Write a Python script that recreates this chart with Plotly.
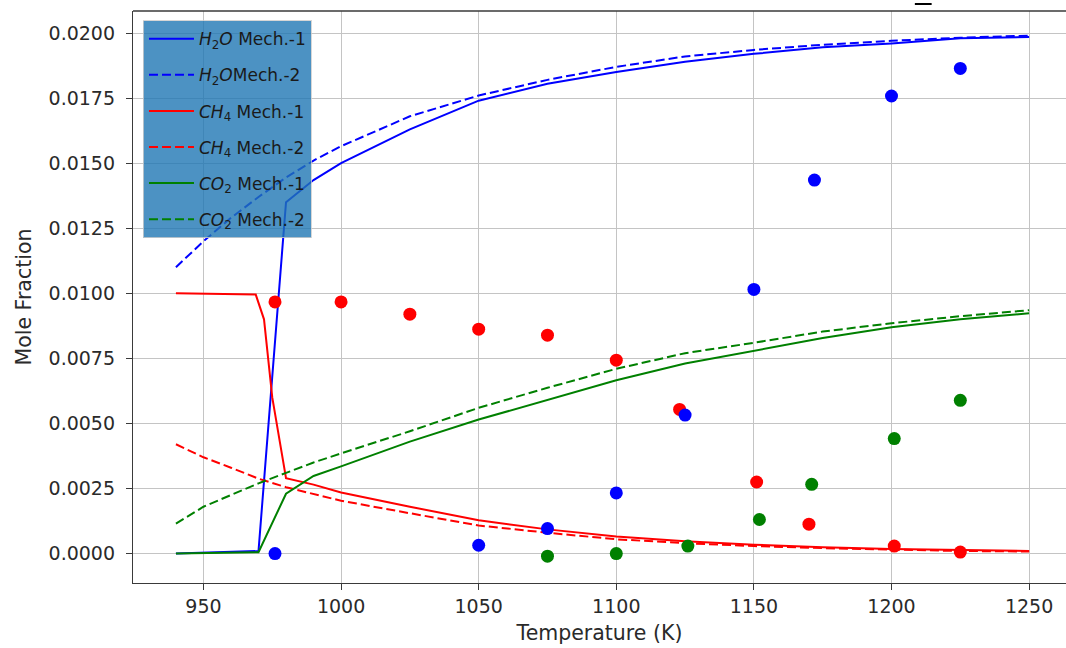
import plotly.graph_objects as go

# --- Mechanism 1 model predictions ---
h2o_m1_T = [940, 970, 980, 990, 1000, 1025, 1050, 1075, 1100, 1125, 1150, 1175, 1200, 1225, 1250]
h2o_m1 = [0.0, 0.0001, 0.0135, 0.01435, 0.0150, 0.0163, 0.0174, 0.01805, 0.0185, 0.0189,
          0.0192, 0.01945, 0.0196, 0.0198, 0.01985]

ch4_m1_T = [940, 969, 972, 975, 980, 990, 1000, 1025, 1050, 1075, 1100, 1125, 1150, 1175,
            1200, 1225, 1250]
ch4_m1 = [0.0100, 0.00995, 0.0090, 0.0060, 0.0029, 0.00265, 0.00235, 0.0018, 0.00128, 0.00093,
          0.00066, 0.00047, 0.00034, 0.00024, 0.00018, 0.00013, 0.0001]

co2_m1_T = [940, 970, 980, 990, 1000, 1025, 1050, 1075, 1100, 1125, 1150, 1175, 1200, 1225, 1250]
co2_m1 = [0.0, 0.00005, 0.0023, 0.00298, 0.00335, 0.0043, 0.00515, 0.0059, 0.00666, 0.0073,
          0.0078, 0.00828, 0.0087, 0.0090, 0.00923]

# --- Mechanism 2 model predictions ---
mech2_T = [940, 950, 960, 970, 980, 990, 1000, 1025, 1050, 1075, 1100, 1125, 1150, 1175,
           1200, 1225, 1250]
h2o_m2 = [0.0110, 0.0120, 0.0129, 0.0137, 0.01445, 0.0151, 0.01565, 0.0168, 0.0176, 0.0182,
          0.0187, 0.0191, 0.01935, 0.01955, 0.0197, 0.01982, 0.0199]
ch4_m2 = [0.0042, 0.0037, 0.0033, 0.00288, 0.00255, 0.00228, 0.00203, 0.00155, 0.00108, 0.0008,
          0.00055, 0.0004, 0.00029, 0.00021, 0.00015, 0.0001, 0.00008]
co2_m2 = [0.00115, 0.0018, 0.00225, 0.0027, 0.0031, 0.0035, 0.00385, 0.0047, 0.0056, 0.00637,
          0.0071, 0.0077, 0.0081, 0.00853, 0.00885, 0.00912, 0.00935]

# --- Experimental measurements ---
h2o_exp_T = [976, 1050, 1075, 1100, 1125, 1150, 1172, 1200, 1225]
h2o_exp = [0.0, 0.00032, 0.00096, 0.00233, 0.00532, 0.01015, 0.01435, 0.01758, 0.01864]

ch4_exp_T = [976, 1000, 1025, 1050, 1075, 1100, 1123, 1151, 1170, 1201, 1225]
ch4_exp = [0.00967, 0.00967, 0.0092, 0.00862, 0.00839, 0.00743, 0.00554, 0.00275, 0.00113,
           0.00029, 0.00006]

co2_exp_T = [1075, 1100, 1126, 1152, 1171, 1201, 1225]
co2_exp = [-0.0001, 0.0, 0.00029, 0.00131, 0.00266, 0.00442, 0.00589]

x_ticks = [950, 1000, 1050, 1100, 1150, 1200, 1250]

BLUE, RED, GREEN = "#0000ff", "#ff0000", "#008000"
DASH = "9px,4px"
FONT = "DejaVu Sans"
SPINE = "#3a3a3a"

fig = go.Figure()

line_specs = [
    (h2o_m1_T, h2o_m1, BLUE, "solid", "<i>H</i><sub>2</sub><i>O</i> Mech.-1"),
    (mech2_T, h2o_m2, BLUE, DASH, "<i>H</i><sub>2</sub><i>O</i>Mech.-2"),
    (ch4_m1_T, ch4_m1, RED, "solid", "<i>CH</i><sub>4</sub> Mech.-1"),
    (mech2_T, ch4_m2, RED, DASH, "<i>CH</i><sub>4</sub> Mech.-2"),
    (co2_m1_T, co2_m1, GREEN, "solid", "<i>CO</i><sub>2</sub> Mech.-1"),
    (mech2_T, co2_m2, GREEN, DASH, "<i>CO</i><sub>2</sub> Mech.-2"),
]
for i, (tx, ty, col, dash, name) in enumerate(line_specs):
    fig.add_trace(go.Scatter(
        x=tx, y=ty, mode="lines", name=name, legendgroup=f"g{i}",
        line=dict(color=col, width=2, dash=dash),
    ))

for tx, ty, col in [(ch4_exp_T, ch4_exp, RED), (h2o_exp_T, h2o_exp, BLUE),
                    (co2_exp_T, co2_exp, GREEN)]:
    fig.add_trace(go.Scatter(
        x=tx, y=ty, mode="markers", showlegend=False,
        marker=dict(color=col, size=13, line=dict(width=0)),
    ))

axis_common = dict(
    showgrid=True, gridcolor="#c4c4c4", gridwidth=1.2,
    showline=True, linecolor=SPINE, linewidth=1.3, mirror=False,
    ticks="outside", ticklen=6, tickwidth=1.2, tickcolor=SPINE,
    tickfont=dict(family=FONT, size=19, color="#2a2a2a"),
    zeroline=False,
)

fig.update_layout(
    width=1066, height=648,
    margin=dict(l=133, r=0, t=11, b=65),
    paper_bgcolor="white", plot_bgcolor="white",
    font=dict(family=FONT, color="#2a2a2a"),
    xaxis=dict(
        range=[924.4, 1263.4], tickmode="array", tickvals=x_ticks,
        title=dict(text="Temperature (K)", font=dict(size=20.5), standoff=9),
        **axis_common,
    ),
    yaxis=dict(
        range=[-0.00113, 0.020846], tick0=0, dtick=0.0025, tickformat=".4f",
        ticklabelstandoff=7,
        title=dict(text="Mole Fraction", font=dict(size=20.5), standoff=11),
        **axis_common,
    ),
    legend=dict(
        x=0.0107, y=0.984, xanchor="left", yanchor="top",
        bgcolor="rgba(31,119,180,0.8)", bordercolor="rgba(204,204,204,0.8)", borderwidth=1,
        font=dict(family=FONT, size=17, color="#1a1a1a"),
        tracegroupgap=11, itemwidth=45,
    ),
    shapes=[
        # top spine of the axes box
        dict(type="line", xref="paper", yref="paper", x0=0, x1=1, y0=1, y1=1,
             line=dict(color=SPINE, width=1.3)),
        dict(type="line", xref="paper", yref="paper",
             x0=0.838, x1=0.856, y0=1.0122, y1=1.0122,
             line=dict(color="black", width=2)),
    ],
)

fig.write_html("out.html", config={"displayModeBar": False})
